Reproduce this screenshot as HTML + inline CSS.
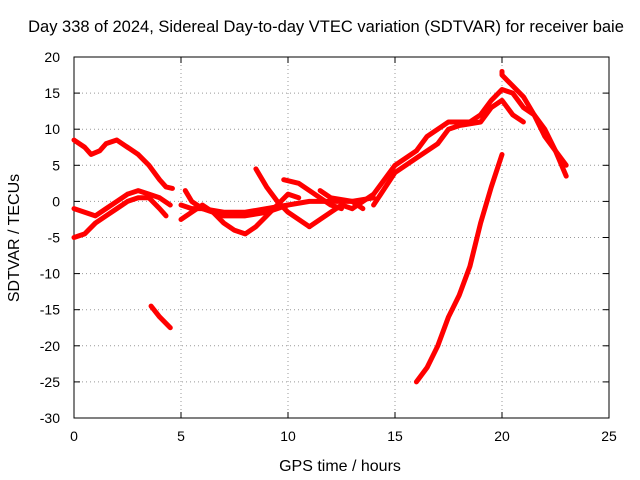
<!DOCTYPE html>
<html><head><meta charset="utf-8"><style>
body{margin:0;background:#fff}
svg{display:block;font-family:"Liberation Sans",sans-serif;font-size:14px}
</style></head><body>
<svg id="chart" width="640" height="480">
<text x="326" y="32" text-anchor="middle" style="font-size:16.5px">Day 338 of 2024, Sidereal Day-to-day VTEC variation (SDTVAR) for receiver baie</text>
<g id="grid"></g><g id="axes"></g><g id="series"></g>
<text x="340" y="471" text-anchor="middle" style="font-size:16px">GPS time / hours</text>
<text transform="translate(19,238) rotate(-90)" text-anchor="middle" style="font-size:16px">SDTVAR / TECUs</text>
</svg>
<script>
const xTicks=[0,5,10,15,20,25];
const yTicks=[20,15,10,5,0,-5,-10,-15,-20,-25,-30];
const track1=[[0,8.5],[0.5,7.5],[0.8,6.5],[1.2,7],[1.5,8],[2,8.5],[2.5,7.5],[3,6.5],[3.5,5],[4,3],[4.3,2],[4.6,1.8]];
const track2=[[0,-1],[0.5,-1.5],[1,-2],[1.5,-1],[2,0],[2.5,1],[3,1.5],[3.5,1],[4,0.5],[4.5,-0.5]];
const track3=[[0,-5],[0.5,-4.5],[1,-3],[1.5,-2],[2,-1],[2.5,0],[3,0.5],[3.5,0.5],[4,-1],[4.3,-2]];
const track4=[[3.6,-14.5],[4,-16],[4.5,-17.5]];
const track5=[[5,-0.5],[5.5,-1],[6,-1],[7,-1.5],[8,-1.5],[9,-1],[10,-0.5],[11,0],[12,0],[13,0],[14,0.5]];
const track6=[[5,-2.5],[5.5,-1.5],[6,-0.5],[6.5,-1.5],[7,-3],[7.5,-4],[8,-4.5],[8.5,-3.5],[9,-2],[9.5,-0.5],[10,1],[10.5,0.5]];
const track7=[[5.2,1.5],[5.5,0],[6,-1],[7,-2],[8,-2],[9,-1.5],[10,-0.5]];
const track8=[[8.5,4.5],[9,2],[9.5,0],[10,-1.5],[10.5,-2.5],[11,-3.5]];
const track9=[[9.8,3],[10.5,2.5],[11,1.5],[11.5,0.5],[12,-0.5],[12.5,-1]];
const track10=[[11,-3.5],[11.5,-2.5],[12,-1.5],[12.5,-0.5],[13,-1]];
const track11=[[11.5,1.5],[12,0.5],[13,0],[13.5,-1]];
const track12=[[13,-1],[14,1],[14.5,3],[15,5],[15.5,6],[16,7],[16.5,9],[17,10],[17.5,11],[18,11],[18.5,11],[19,12],[19.5,14],[20,15.5],[20.5,15],[21,13],[21.5,12],[22,9],[22.5,7],[23,5]];
const track13=[[14,-0.5],[15,4],[16,6],[17,8],[17.5,10],[18,10.5],[19,11],[19.5,13],[20,14],[20.5,12],[21,11]];
const track14=[[20,18],[20,17.5],[20.5,16],[21,14.5],[21.5,12],[22,10],[22.5,7],[23,3.5]];
const track15=[[16,-25],[16.5,-23],[17,-20],[17.5,-16],[18,-13],[18.5,-9],[19,-3],[19.5,2],[20,6.5]];
const tracks=[track1,track2,track3,track4,track5,track6,track7,track8,track9,track10,track11,track12,track13,track14,track15];
const L=74,R=609,T=57,B=418,X0=0,X1=25,Y0=-30,Y1=20;
const sx=v=>L+(v-X0)/(X1-X0)*(R-L);
const sy=v=>B-(v-Y0)/(Y1-Y0)*(B-T);
const NS="http://www.w3.org/2000/svg";
const g=document.getElementById('grid'),a=document.getElementById('axes'),s=document.getElementById('series');
function mk(tag,attrs,parent){const e=document.createElementNS(NS,tag);for(const k in attrs)e.setAttribute(k,attrs[k]);parent.appendChild(e);return e;}
xTicks.forEach(v=>{
 if(v>X0&&v<X1){const l=mk('line',{x1:sx(v),x2:sx(v),y1:T,y2:B,stroke:'#999','stroke-dasharray':'1,3'},g);
 
 }
 const t=mk('text',{x:sx(v),y:B+23,'text-anchor':'middle'},a);t.textContent=v;
 
 
 mk('line',{x1:sx(v),x2:sx(v),y1:B,y2:B-6,stroke:'#000'},a);
 mk('line',{x1:sx(v),x2:sx(v),y1:T,y2:T+6,stroke:'#000'},a);
});
yTicks.forEach(v=>{
 if(v>Y0&&v<Y1){const l=mk('line',{x1:L,x2:R,y1:sy(v),y2:sy(v),stroke:'#999','stroke-dasharray':'1,3'},g);
 
 }
 const t=mk('text',{x:L-14,y:sy(v)+5,'text-anchor':'end'},a);t.textContent=v;
 
 
 mk('line',{x1:L,x2:L+6,y1:sy(v),y2:sy(v),stroke:'#000'},a);
 mk('line',{x1:R,x2:R-6,y1:sy(v),y2:sy(v),stroke:'#000'},a);
});
const box=mk('rect',{x:L,y:T,width:R-L,height:B-T,fill:'none',stroke:'#000'},a);


tracks.forEach(tr=>{
 const p=mk('polyline',{points:tr.map(d=>sx(d[0])+','+sy(d[1])).join(' '),fill:'none',stroke:'#f00','stroke-width':5,'stroke-linejoin':'round','stroke-linecap':'round'},s);
 
 
});
</script>
</body></html>
